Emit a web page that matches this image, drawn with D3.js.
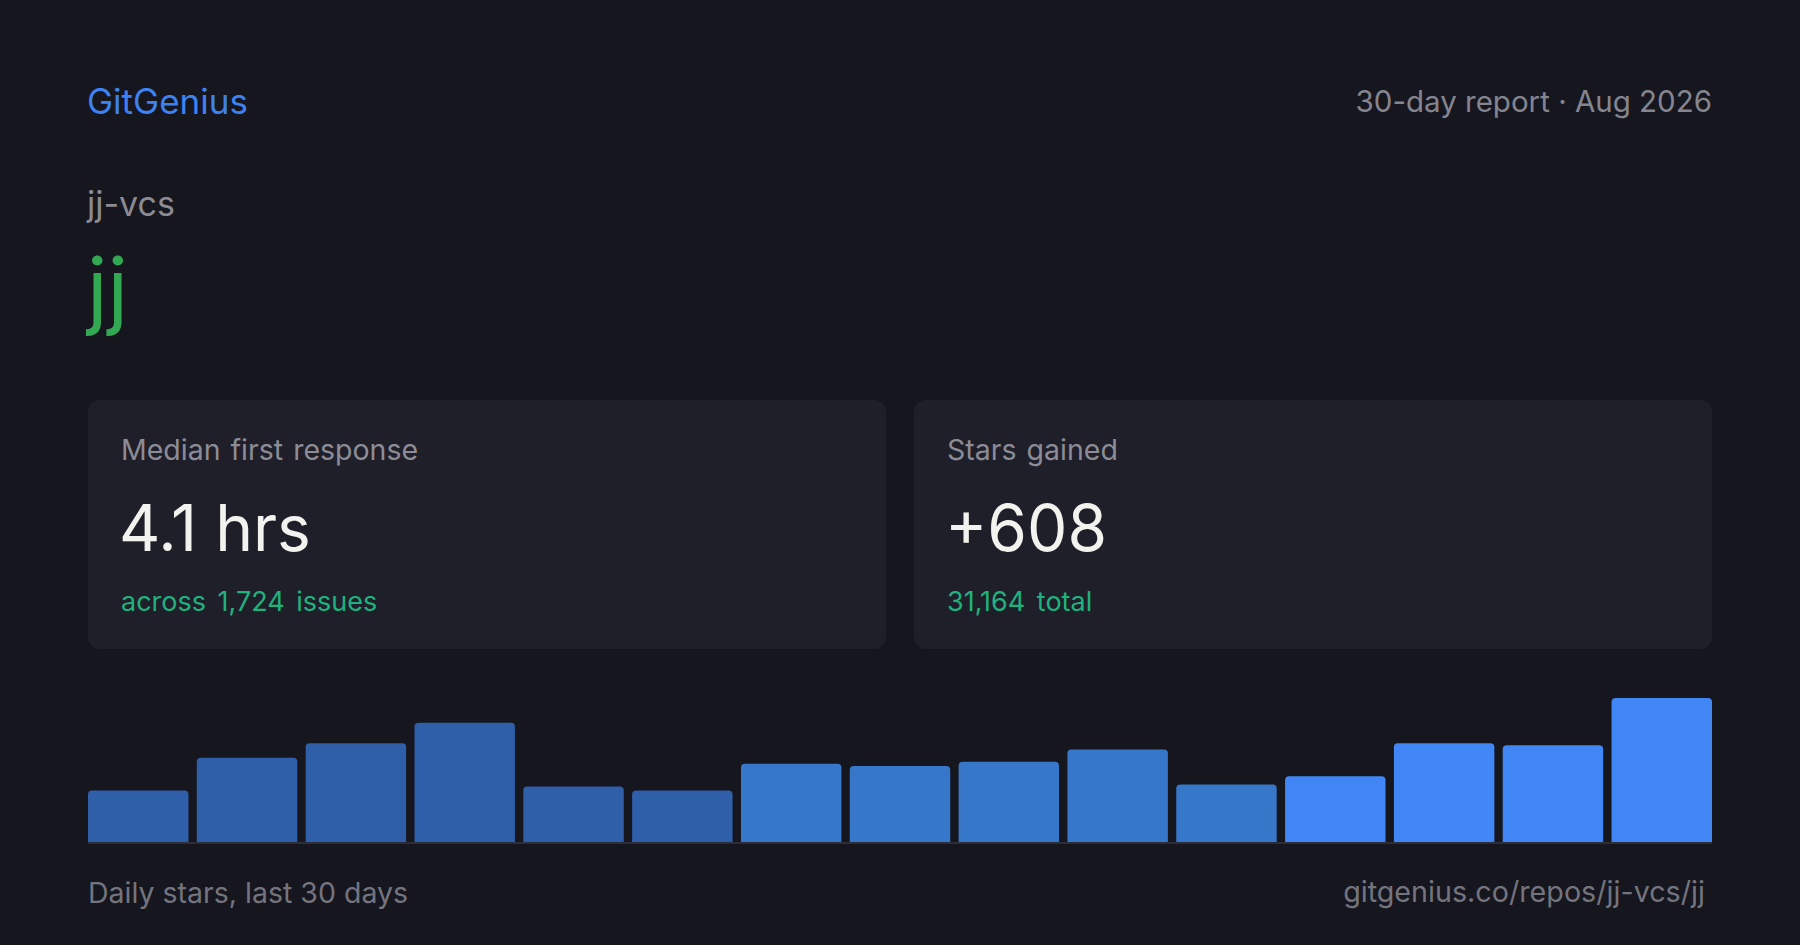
<!DOCTYPE html>
<html>
<head>
<meta charset="utf-8">
<script src="https://cdn.jsdelivr.net/npm/d3@7"></script>
<style>
  html, body { margin: 0; padding: 0; background: #16161f; }
  svg { display: block; font-family: Inter, "Noto Sans", sans-serif; }
</style>
</head>
<body>
<svg id="card" width="1800" height="945"></svg>
<script>
(function() {
  /* Data */
  var periods = ['1-2', '3-4', '5-6', '7-8', '9-10', '11-12', '13-14', '15-16',
                 '17-18', '19-20', '21-22', '23-24', '25-26', '27-28', '29-30'];
  var stars = [25, 41, 48, 58, 27, 25, 38, 37, 39, 45, 28, 32, 48, 47, 70];
  var tiers = [0, 0, 0, 0, 0, 0, 1, 1, 1, 1, 1, 2, 2, 2, 2];

  var stats = [
    { label: 'Median first response', value: '4.1 hrs', note: 'across 1,724 issues' },
    { label: 'Stars gained', value: '+608', note: '31,164 total' }
  ];

  var width = 1800,
      height = 945,
      left = 88,
      right = 1712;

  var svg = d3.select('#card');

  svg.append('rect')
    .attr('width', width)
    .attr('height', height)
    .attr('fill', '#16161f');

  // header
  svg.append('text')
    .attr('x', left - 1)
    .attr('y', 114)
    .attr('font-size', 35)
    .attr('fill', '#3d82f0')
    .text('GitGenius');

  svg.append('text')
    .attr('x', right)
    .attr('y', 112)
    .attr('text-anchor', 'end')
    .attr('font-size', 29.5)
    .attr('fill', '#85858f')
    .text('30-day report \u00b7 Aug 2026');

  svg.append('text')
    .attr('x', left - 1)
    .attr('y', 216)
    .attr('font-size', 34)
    .attr('fill', '#8b8b94')
    .text('jj-vcs');

  svg.append('text')
    .attr('x', left - 1)
    .attr('y', 319)
    .attr('font-size', 85)
    .attr('fill', '#33a852')
    .text('jj');

  // stat cards
  var cardGap = 28,
      cardW = (right - left - cardGap) / 2;

  var cards = svg.selectAll('g.stat')
    .data(stats)
    .enter()
    .append('g')
      .attr('class', 'stat')
      .attr('transform', function(d, i) {
        return 'translate(' + (left + i * (cardW + cardGap)) + ',400)';
      });

  cards.append('rect')
    .attr('width', cardW)
    .attr('height', 249)
    .attr('rx', 12)
    .attr('fill', '#1f1f2a');

  cards.append('text')
    .attr('x', 33)
    .attr('y', 60)
    .attr('font-size', 28.5)
    .attr('fill', '#8c8c96')
    .attr('word-spacing', 2)
    .text(function(d) { return d.label; });

  cards.append('text')
    .attr('x', 31)
    .attr('y', 151)
    .attr('font-size', 64)
    .attr('fill', '#f2f2ee')
    .text(function(d) { return d.value; });

  cards.append('text')
    .attr('x', 33)
    .attr('y', 211)
    .attr('font-size', 27)
    .attr('fill', '#1fb27e')
    .attr('word-spacing', 4)
    .text(function(d) { return d.note; });

  // bar chart
  var base = 842;

  var x = d3.scaleBand()
    .domain(periods)
    .range([left, right])
    .paddingInner(0.077)
    .paddingOuter(0);

  var y = d3.scaleLinear()
    .domain([0, d3.max(stars)])
    .range([base, 698]);

  var color = d3.scaleOrdinal()
    .domain([0, 1, 2])
    .range(['#2f5fa9', '#3677c9', '#4186f5']);

  var data = periods.map(function(p, i) {
    return { period: p, count: stars[i], tier: tiers[i] };
  });

  function topRounded(x0, y0, w, h, r) {
    r = Math.min(r, h, w / 2);
    return 'M' + x0 + ',' + (y0 + h) +
      'V' + (y0 + r) +
      'Q' + x0 + ',' + y0 + ' ' + (x0 + r) + ',' + y0 +
      'H' + (x0 + w - r) +
      'Q' + (x0 + w) + ',' + y0 + ' ' + (x0 + w) + ',' + (y0 + r) +
      'V' + (y0 + h) + 'Z';
  }

  svg.append('g')
    .selectAll('path')
    .data(data)
    .enter()
    .append('path')
      .attr('d', function(d) {
        return topRounded(x(d.period), y(d.count), x.bandwidth(), base - y(d.count), 4);
      })
      .attr('fill', function(d) { return color(d.tier); });

  svg.append('rect')
    .attr('x', left)
    .attr('y', base)
    .attr('width', right - left)
    .attr('height', 2)
    .attr('fill', '#2c2d3b');

  // footer
  svg.append('text')
    .attr('x', left)
    .attr('y', 903)
    .attr('font-size', 28.5)
    .attr('fill', '#74747e')
    .text('Daily stars, last 30 days');

  svg.append('text')
    .attr('x', 1705)
    .attr('y', 902)
    .attr('text-anchor', 'end')
    .attr('font-size', 28.7)
    .attr('fill', '#74747e')
    .text('gitgenius.co/repos/jj-vcs/jj');
})();
</script>
</body>
</html>
